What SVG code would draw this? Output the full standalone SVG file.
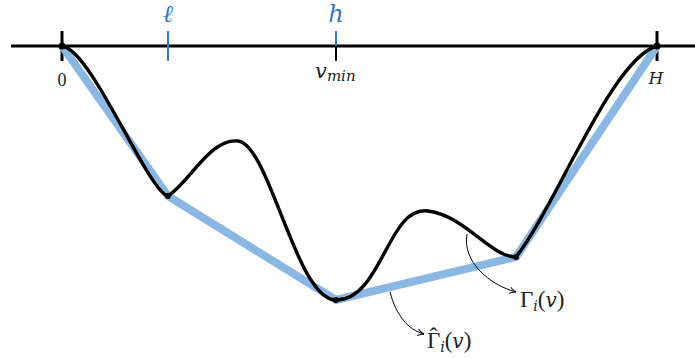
<svg xmlns="http://www.w3.org/2000/svg" width="695" height="358" viewBox="0 0 695 358">
<defs>
<style>
.ax{stroke:#000;stroke-width:3;fill:none}
.bt{stroke:#3576c0;stroke-width:2;fill:none}
.env{stroke:#8ab8e3;stroke-width:8;fill:none;stroke-linejoin:miter}
.cur{stroke:#000;stroke-width:3.4;fill:none;stroke-linejoin:round}
.ar{stroke:#000;stroke-width:1;fill:none}
.m{font-style:italic;font-family:'DejaVu Serif',serif}
text{fill:#222}
.bl{font-style:italic;fill:#3576c0;font-size:24px;font-family:'DejaVu Serif',serif}
</style>
<marker id="ah" viewBox="0 0 10 10" refX="9" refY="5" markerWidth="8" markerHeight="8" orient="auto" markerUnits="userSpaceOnUse">
<path d="M1,1 Q5,4 9,5 Q5,6 1,9" fill="none" stroke="#000" stroke-width="1.2"/>
</marker>
</defs>
<g id="axis" font-family="'Liberation Serif', 'DejaVu Serif', serif">
<line class="ax" x1="11" y1="46" x2="695" y2="46"/>
<line class="ax" x1="62" y1="31" x2="62" y2="61"/>
<line class="ax" x1="657" y1="31" x2="657" y2="61"/>
<line class="bt" x1="168" y1="31" x2="168" y2="61"/>
<line class="bt" x1="336" y1="31" x2="336" y2="46"/>
<line class="ax" x1="336" y1="46" x2="336" y2="61" style="stroke-width:2"/>
<text x="62" y="86" font-size="18" text-anchor="middle">0</text>
<text class="m" x="656" y="84" font-size="17" text-anchor="middle">H</text>
<text class="m" x="315" y="78" font-size="21">v<tspan font-size="15" dy="3">min</tspan></text>
<text class="bl" x="168" y="22" text-anchor="middle">ℓ</text>
<text class="bl" x="336" y="22" text-anchor="middle">h</text>
</g>
<g id="envelope">
<polyline class="env" points="62,46 168,196 336,300 516,257 657,46"/>
</g>
<g id="curve">
<path class="cur" d="M62,46 C92,50 148,192 168,196 C190,182 210,138 238,141 C270,145 296,300 336,300 C382,300 388,205 428,211 C466,216 490,257 516,257 C556,206 612,58 657,46"/>
<circle cx="62" cy="46" r="3.5"/>
<circle cx="168" cy="196" r="3"/>
<circle cx="336" cy="300" r="3"/>
<circle cx="516" cy="257" r="3"/>
<circle cx="657" cy="46" r="3.5"/>
</g>
<g id="connectors">
<path class="ar" d="M467,234 C462,262 490,285 516,292" marker-end="url(#ah)"/>
<path class="ar" d="M390,292 C396,315 408,330 424,334" marker-end="url(#ah)"/>
</g>
<g id="labels" font-family="'Liberation Serif', 'DejaVu Serif', serif">
<text x="520" y="307" font-size="23">Γ<tspan class="m" font-size="14" dy="4">i</tspan><tspan dy="-4">(</tspan><tspan class="m" font-size="20">v</tspan>)</text>
<text x="427" y="348" font-size="23">Γ<tspan dx="-10.5" dy="-4">ˆ</tspan><tspan dx="2.7" dy="8" class="m" font-size="14">i</tspan><tspan dy="-4">(</tspan><tspan class="m" font-size="20">v</tspan>)</text>
</g>
</svg>
